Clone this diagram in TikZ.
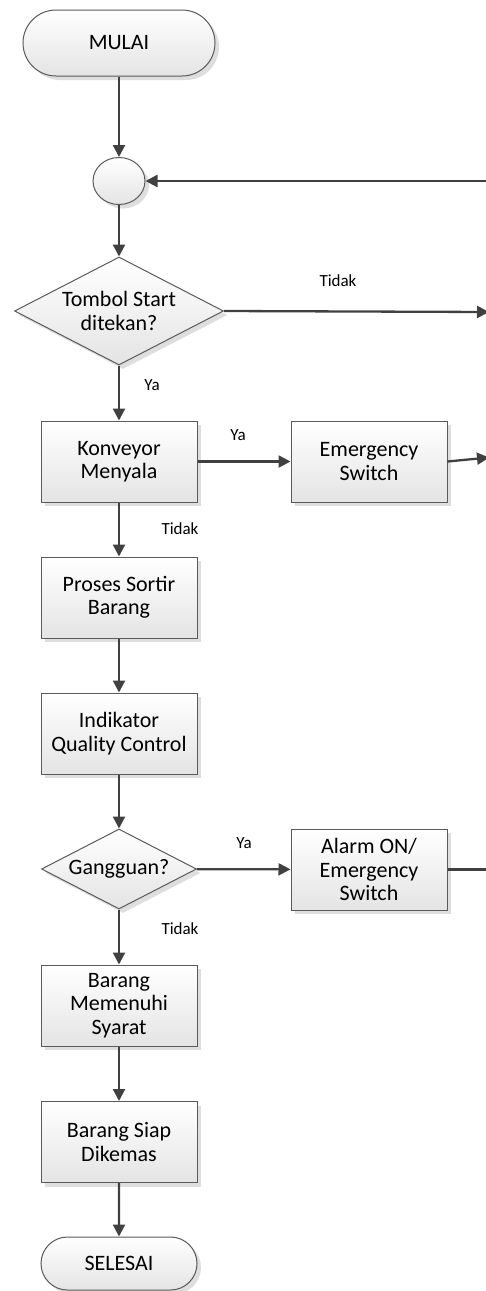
\documentclass[tikz,border=0pt]{standalone}
\usepackage{fontspec}
\setmainfont{Carlito}
\usetikzlibrary{shapes.geometric,shapes.misc,arrows.meta,shadows}
\definecolor{garis}{HTML}{404040}
\definecolor{tepi}{HTML}{5A5A5A}
\definecolor{isi}{HTML}{E4E4E4}

\begin{document}
\begin{tikzpicture}[x=1pt, y=-1pt,
  kotak/.style={draw=tepi, line width=1pt, top color=white, bottom color=isi,
    align=center, inner sep=0pt, font=\fontsize{22}{23.5}\selectfont,
    drop shadow={shadow xshift=4pt, shadow yshift=-4pt, fill=black!13, opacity=1}},
  proses/.style={kotak, rectangle, minimum width=156pt, minimum height=81pt},
  ujung/.style={kotak, rounded rectangle},
  pilih/.style={kotak, diamond, aspect=2},
  alir/.style={draw=garis, line width=2.3pt, -{Triangle[length=12pt,width=12pt]}},
  polos/.style={draw=garis, line width=2.3pt},
  ket/.style={font=\fontsize{17}{19}\selectfont}]
  \useasboundingbox (0,0) rectangle (486,1291);
  \clip (0,0) rectangle (486,1291);

  \node[ujung, minimum width=192pt, minimum height=66pt] (mulai) at (119,43) {MULAI};
  \node[kotak, ellipse, minimum width=52pt, minimum height=47pt] (titik) at (119,181) {};
  \node[pilih, minimum width=209pt, minimum height=108pt] (tombol) at (119,311) {Tombol Start\\ditekan?};
  \node[proses] (konveyor) at (119,461.5) {Konveyor\\Menyala};
  \node[proses] (darurat) at (369,461.5) {Emergency\\Switch};
  \node[proses] (sortir) at (119,597.5) {Proses Sortir\\Barang};
  \node[proses] (indikator) at (119,733.5) {Indikator\\Quality Control};
  \node[pilih, minimum width=155pt, minimum height=80pt] (gangguan) at (119,869) {Gangguan?};
  \node[proses] (alarm) at (369,869.5) {Alarm ON/\\Emergency\\Switch};
  \node[proses] (memenuhi) at (119,1005.5) {Barang\\Memenuhi\\Syarat};
  \node[proses] (siap) at (119,1142) {Barang Siap\\Dikemas};
  \node[ujung, minimum width=156pt, minimum height=53pt] (selesai) at (119,1263.5) {SELESAI};

  \coordinate (balik) at (490,181);
  \coordinate (keluarA) at (489,312);
  \coordinate (keluarB) at (489,457.5);
  \coordinate (keluarC) at (490,869.5);

  \draw[alir] (mulai) -- (titik);
  \draw[alir] (balik) -- (titik);
  \draw[alir] (titik) -- (tombol);
  \draw[alir] (tombol.east) -- (keluarA);
  \draw[alir] (tombol) -- (konveyor);
  \draw[alir] (konveyor) -- (darurat);
  \draw[alir] (darurat.east) -- (keluarB);
  \draw[alir] (konveyor) -- (sortir);
  \draw[alir] (sortir) -- (indikator);
  \draw[alir] (indikator) -- (gangguan);
  \draw[alir] (gangguan) -- (alarm);
  \draw[polos] (alarm.east) -- (keluarC);
  \draw[alir] (gangguan) -- (memenuhi);
  \draw[alir] (memenuhi) -- (siap);
  \draw[alir] (siap) -- (selesai);

  \node[ket] (tidakA) at (338,281) {Tidak};
  \node[ket] (yaA) at (152,385) {Ya};
  \node[ket] (yaB) at (238,435) {Ya};
  \node[ket] (tidakB) at (180,529) {Tidak};
  \node[ket] (yaC) at (244,843) {Ya};
  \node[ket] (tidakC) at (180,929) {Tidak};
\end{tikzpicture}
\end{document}
